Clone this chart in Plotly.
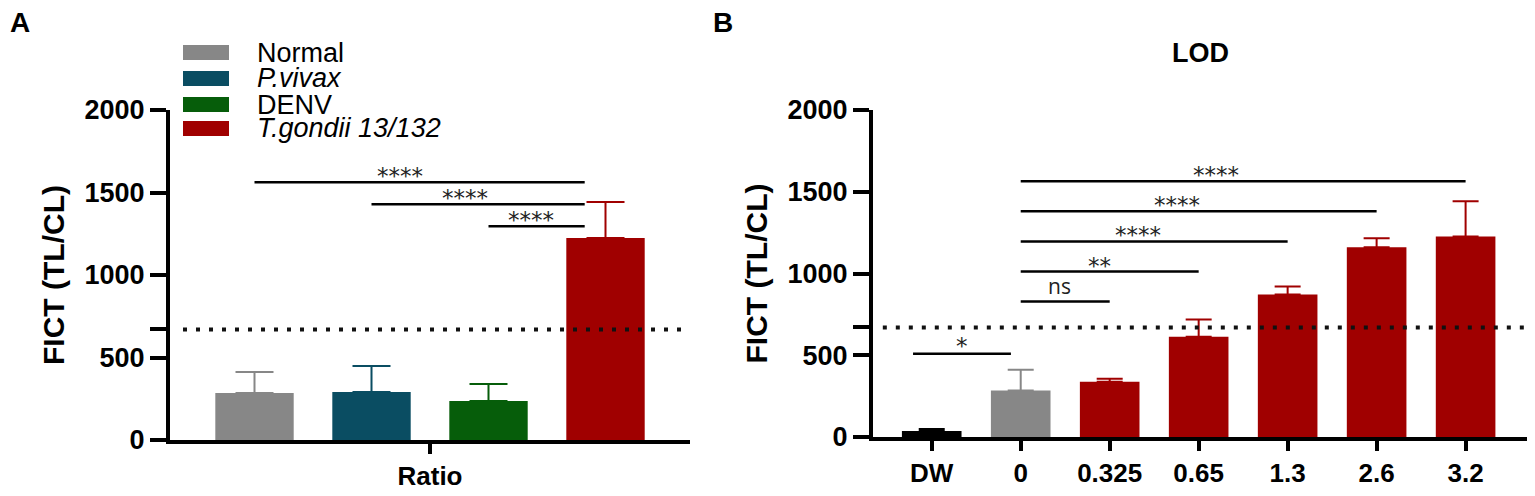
import plotly.graph_objects as go

# the page adds an 8px body margin, so the figure is drawn 16px smaller
W, H = 1519, 480
OFF = 8

# panel A: ratio
groups = ["Normal", "P.vivax", "DENV", "T.gondii 13/132"]
group_italic = [False, True, False, True]
ratio_mean = [285, 291, 236, 1224]
ratio_upper = [412, 448, 339, 1442]
group_colors = ["#878787", "#0a4d62", "#065d0a", "#a00000"]

# panel B: LOD
lod_labels = ["DW", "0", "0.325", "0.65", "1.3", "2.6", "3.2"]
lod_mean = [37, 285, 338, 613, 871, 1160, 1227]
lod_upper = [49, 412, 357, 718, 920, 1215, 1442]
lod_colors = ["#000000", "#878787", "#a00000", "#a00000", "#a00000", "#a00000", "#a00000"]

cutoff = 670

# significance brackets (from, to, y, label)
sig_a = [(0, 3, 1562, "****"), (1, 3, 1429, "****"), (2, 3, 1295, "****")]
sig_b = [("0", "3.2", 1564, "****"), ("0", "2.6", 1380, "****"), ("0", "1.3", 1196, "****"),
         ("0", "0.65", 1012, "**"), ("0", "0.325", 828, "ns")]
sig_b_dw = (-0.21, 0.89, 509, "*")

FONT = "Liberation Sans"
STAR = "DejaVu Sans"


def px(x):
    return min(1, max(0, (x - OFF) / W))


def py(y):
    return min(1, max(0, 1 - (y - OFF) / H))


fig = go.Figure()

for n, g in enumerate(groups):
    fig.add_bar(
        x=["Ratio"], y=[ratio_mean[n]], name=g, marker_color=group_colors[n],
        marker_line_width=0, xaxis="x", yaxis="y",
        error_y=dict(type="data", symmetric=False, array=[ratio_upper[n] - ratio_mean[n]],
                     arrayminus=[0], color=group_colors[n], thickness=2, width=19),
    )

for n, lab in enumerate(lod_labels):
    fig.add_bar(
        x=[lab], y=[lod_mean[n]], name=lab, marker_color=lod_colors[n], marker_line_width=0,
        offsetgroup="lod", width=0.67, xaxis="x2", yaxis="y2",
        error_y=dict(type="data", symmetric=False, array=[lod_upper[n] - lod_mean[n]],
                     arrayminus=[0], color=lod_colors[n], thickness=2, width=13),
    )

axis_common = dict(showline=True, linewidth=4, linecolor="black", ticks="outside",
                   ticklen=16, tickwidth=4, tickcolor="black", showgrid=False,
                   zeroline=False, automargin=False,
                   tickfont=dict(family=FONT, size=27, color="black", weight="bold"))
xaxis_common = dict(axis_common, ticklen=10,
                    tickfont=dict(family=FONT, size=26, color="black", weight="bold"))
ytitle = dict(text="FICT (TL/CL)", font=dict(family=FONT, size=30, color="black", weight="bold"),
              standoff=12)
yticks = [0, 500, 1000, 1500, 2000, cutoff]
yticktext = ["0", "500", "1000", "1500", "2000", ""]

fig.update_layout(
    width=W, height=H, margin=dict(l=0, r=0, t=0, b=0, autoexpand=False),
    plot_bgcolor="white", paper_bgcolor="white",
    showlegend=False, barmode="group", bargap=0.1, bargroupgap=0.33,
    xaxis=dict(xaxis_common, domain=[px(170), px(690)], anchor="y", type="category",
               range=[-0.5, 0.5]),
    yaxis=dict(axis_common, domain=[py(440), py(110)], anchor="x", range=[0, 2000],
               tickvals=yticks, ticktext=yticktext, title=ytitle),
    xaxis2=dict(xaxis_common, domain=[px(873), px(1527)], anchor="y2", type="category",
                categoryorder="array", categoryarray=lod_labels, range=[-0.66, 6.69]),
    yaxis2=dict(axis_common, domain=[py(437), py(110)], anchor="x2", range=[0, 2000],
                tickvals=yticks, ticktext=yticktext, title=ytitle),
)

# cutoff dotted lines
dot = dict(color="#111111", width=4, dash="4px,9px")
fig.add_shape(type="line", xref="x domain", yref="y", x0=0.025, x1=1, y0=cutoff, y1=cutoff, line=dot)
fig.add_shape(type="line", xref="x2 domain", yref="y2", x0=0.015, x1=1, y0=cutoff, y1=cutoff, line=dot)

# bar centres of the grouped panel A
slot = (1 - 0.1) / len(groups)
centres = [-(1 - 0.1) / 2 + slot * (i + 0.5) for i in range(len(groups))]

line_sig = dict(color="black", width=2.5)
star_font = dict(family=STAR, size=23, color="#222222")
for i0, i1, yv, lab in sig_a:
    x0, x1 = centres[i0], centres[i1] - 0.04
    fig.add_shape(type="line", xref="x", yref="y", x0=x0, x1=x1, y0=yv, y1=yv, line=line_sig)
    fig.add_annotation(x=x0 + 0.44 * (x1 - x0), y=yv, xref="x", yref="y", text=lab,
                       showarrow=False, yanchor="middle", yshift=6, font=star_font)

for c0, c1, yv, lab in sig_b:
    # category positions as numeric indices
    i0, i1 = lod_labels.index(c0), lod_labels.index(c1)
    fig.add_shape(type="line", xref="x2", yref="y2", x0=i0, x1=i1, y0=yv, y1=yv, line=line_sig)
    mid = i0 + 0.44 * (i1 - i0)
    if lab == "ns":
        fnt, ys = dict(family="Open Sans", size=21, color="#222222"), 16
    else:
        fnt, ys = star_font, 6
    fig.add_annotation(x=mid, y=yv, xref="x2", yref="y2", text=lab, showarrow=False,
                       yanchor="middle", yshift=ys, font=fnt)

x0, x1, yv, lab = sig_b_dw
fig.add_shape(type="line", xref="x2", yref="y2", x0=x0, x1=x1, y0=yv, y1=yv, line=line_sig)
fig.add_annotation(x=(x0 + x1) / 2, y=yv, xref="x2", yref="y2", text=lab, showarrow=False,
                   yanchor="middle", yshift=8, font=star_font)

# legend of panel A
leg_y = [52.5, 78.5, 104.5, 128.5]
for n, g in enumerate(groups):
    fig.add_shape(type="rect", xref="paper", yref="paper", x0=px(183), x1=px(229),
                  y0=py(leg_y[n] + 7.5), y1=py(leg_y[n] - 7.5),
                  fillcolor=group_colors[n], line=dict(width=0))
    txt = "<i>%s</i>" % g if group_italic[n] else g
    fig.add_annotation(x=px(255), y=py(leg_y[n]), xref="paper", yref="paper", text=txt,
                       showarrow=False, xanchor="left", yanchor="middle",
                       font=dict(family=FONT, size=27, color="black"))

# panel letters and LOD title
for lab, xp in [("A", 8), ("B", 711)]:
    fig.add_annotation(x=px(xp), y=py(22), xref="paper", yref="paper", text=lab,
                       showarrow=False, xanchor="left", yanchor="middle",
                       font=dict(family=FONT, size=28, color="black", weight="bold"))
fig.add_annotation(x=0.5, y=py(53), xref="x2 domain", yref="paper", text="LOD",
                   showarrow=False, yanchor="middle",
                   font=dict(family=FONT, size=27, color="black", weight="bold"))

fig.write_html("out.html")
